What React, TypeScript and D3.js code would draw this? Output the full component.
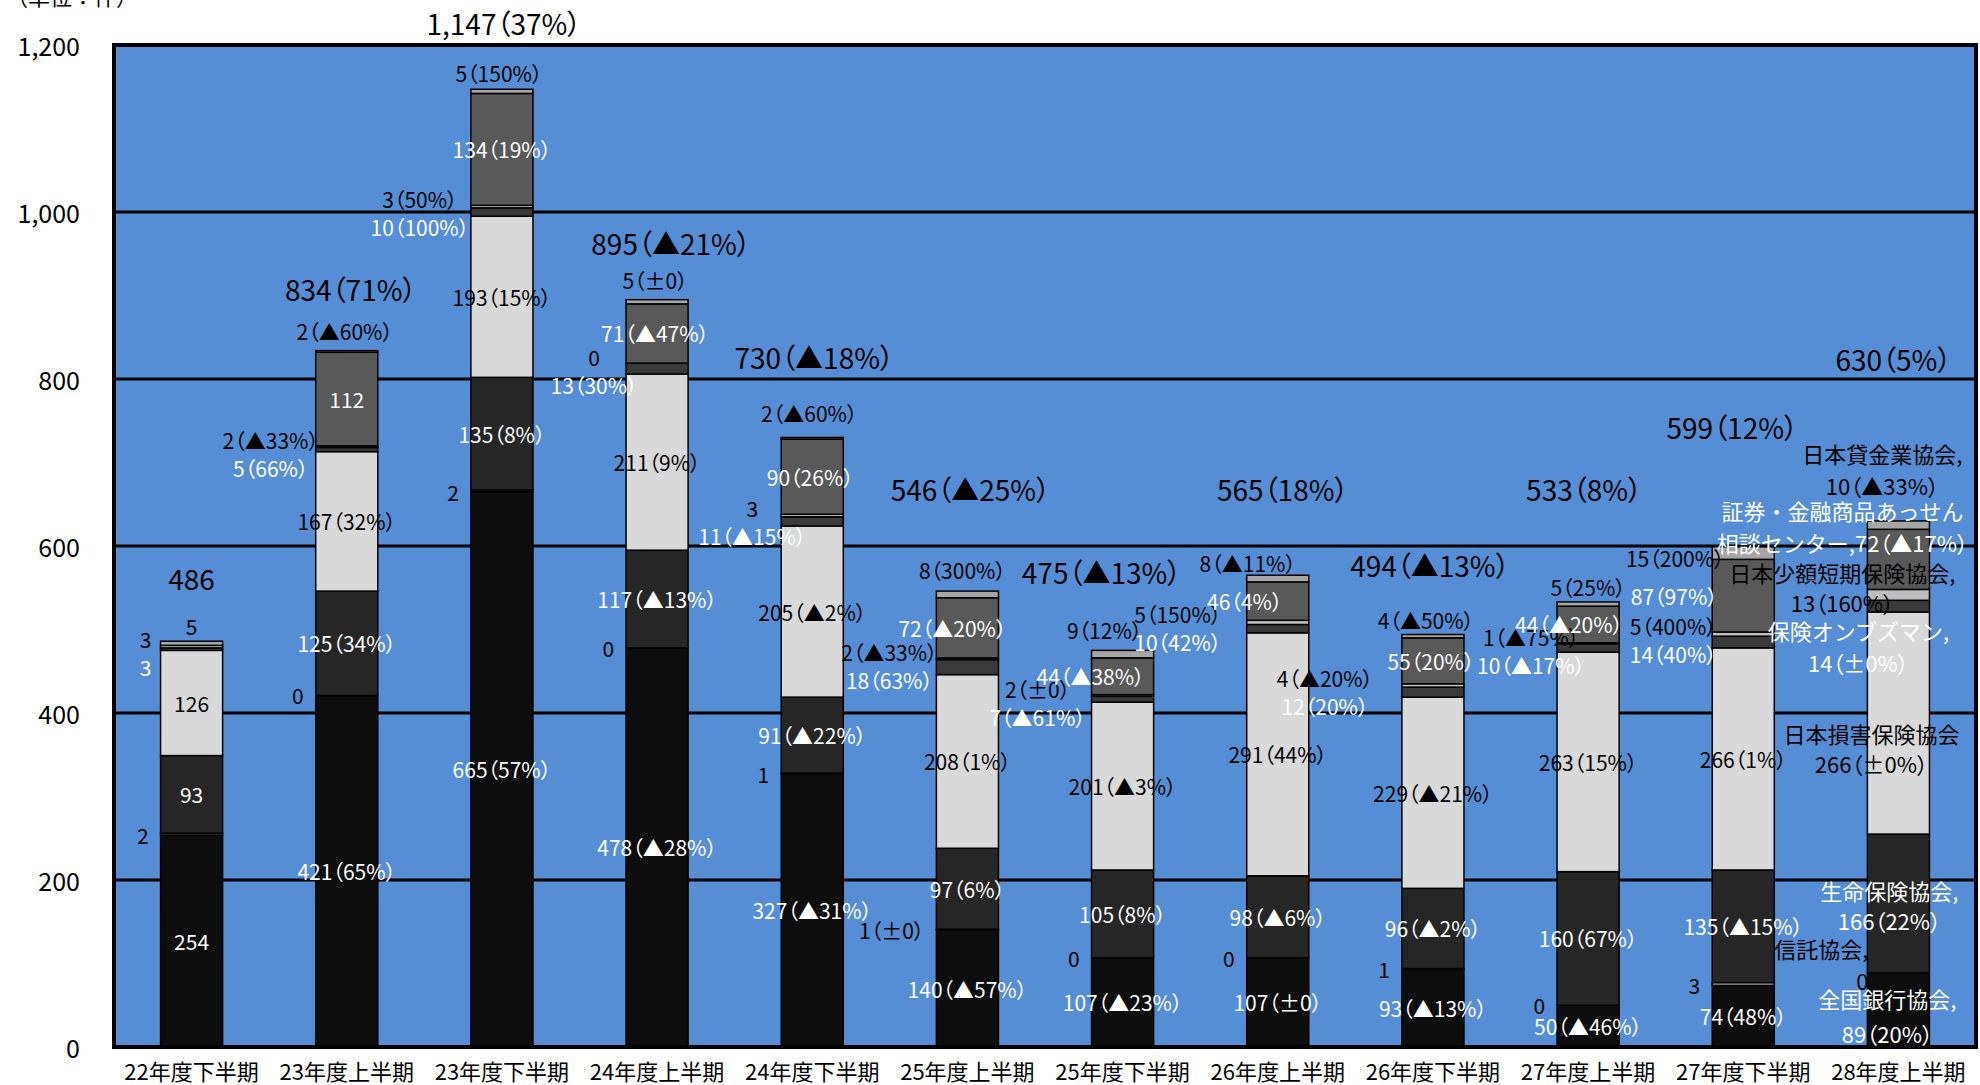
import React from "react";
import * as d3 from "d3";

const periods = [
  "22年度下半期", "23年度上半期", "23年度下半期", "24年度上半期",
  "24年度下半期", "25年度上半期", "25年度下半期", "26年度上半期",
  "26年度下半期", "27年度上半期", "27年度下半期", "28年度上半期",
];

// 件数（下から積み上げ順）
const zengin = [254, 421, 665, 478, 327, 140, 107, 107, 93, 50, 74, 89];
const shintaku = [2, 0, 2, 0, 1, 1, 0, 0, 1, 0, 3, 0];
const seiho = [93, 125, 135, 117, 91, 97, 105, 98, 96, 160, 135, 166];
const sonpo = [126, 167, 193, 211, 205, 208, 201, 291, 229, 263, 266, 266];
const ombuds = [3, 5, 10, 13, 11, 18, 7, 10, 12, 10, 14, 14];
const shogaku = [3, 2, 3, 0, 3, 2, 2, 5, 4, 1, 5, 13];
const shoken = [null, 112, 134, 71, 90, 72, 44, 46, 55, 44, 87, 72];
const kashikin = [5, 2, 5, 5, 2, 8, 9, 8, 4, 5, 15, 10];

// 前期比
const zenginChg = ["", "65%", "57%", "▲28%", "▲31%", "▲57%", "▲23%", "±0", "▲13%", "▲46%", "48%", "20%"];
const shintakuChg = ["", "", "", "", "", "±0", "", "", "", "", "", ""];
const seihoChg = ["", "34%", "8%", "▲13%", "▲22%", "6%", "8%", "▲6%", "▲2%", "67%", "▲15%", "22%"];
const sonpoChg = ["", "32%", "15%", "9%", "▲2%", "1%", "▲3%", "44%", "▲21%", "15%", "1%", "±0%"];
const ombudsChg = ["", "66%", "100%", "30%", "▲15%", "63%", "▲61%", "42%", "20%", "▲17%", "40%", "±0%"];
const shogakuChg = ["", "▲33%", "50%", "", "", "▲33%", "±0", "150%", "▲20%", "▲75%", "400%", "160%"];
const shokenChg = ["", "", "19%", "▲47%", "26%", "▲20%", "▲38%", "4%", "20%", "▲20%", "97%", "▲17%"];
const kashikinChg = ["", "▲60%", "150%", "±0", "▲60%", "300%", "12%", "▲11%", "▲50%", "25%", "200%", "▲33%"];
const totalChg = ["", "71%", "37%", "▲21%", "▲18%", "▲25%", "▲13%", "18%", "▲13%", "8%", "12%", "5%"];

const seriesNames = [
  ["全国銀行協会,"], ["信託協会,"], ["生命保険協会,"], ["日本損害保険協会"],
  ["保険オンブズマン,"], ["日本少額短期保険協会,"], ["証券・金融商品あっせん", "相談センター,"], ["日本貸金業協会,"],
];

const yTicks = [0, 200, 400, 600, 800, 1000, 1200];

const keys = ["zengin", "shintaku", "seiho", "sonpo", "ombuds", "shogaku", "shoken", "kashikin"];
const values = [zengin, shintaku, seiho, sonpo, ombuds, shogaku, shoken, kashikin];
const changes = [zenginChg, shintakuChg, seihoChg, sonpoChg, ombudsChg, shogakuChg, shokenChg, kashikinChg];
const fills = ["#0d0d0d", "#ffffff", "#262626", "#d9d9d9", "#3a3a3a", "#bfbfbf", "#595959", "#a6a6a6"];
const inks = ["#fff", "#000", "#fff", "#000", "#fff", "#000", "#fff", "#000"];

// ラベル位置の微調整 (px)
const totalDx = [0, 4, 2, 14, 2, 3, -21, 5, -3, -4, -11, -5];
const totalLift = [63, 62, 66, 57, 80, 102, 78, 86, 70, 113, 120, 162];
const sideDx = [-46, -76, -82, -63, -60, -78, -85, -100, -108, -57, -70, 0];
const shokenDx = [0, 0, 0, -2, -2, -15, -32, -33, -2, -19, -69, 0];
const kashiDx = [0, -2, -3, -2, -3, -5, -18, -30, -7, 0, -68, 0];
const kashiLift = [15, 20, 16, 20, 24, 21, 20, 12, 15, 15, -11, 0];
// 最終期（系列名つき）: [dx, dy1, dy2]
const lastPos = [
  [-11, -12, 23], [-30, -25, 7], [-9, -13, 17], [-27, 10, 40],
  [-40, 24, 56], [-56, -23, 7], [-56, -49, -17], [-16, -72, -40],
];

const FONT = "'Noto Sans CJK JP', 'Noto Sans', sans-serif";
const palt = { fontFeatureSettings: '"palt"' } as React.CSSProperties;

const fmt = (v: number, chg: string) => (chg ? `${v}（${chg}）` : `${v}`);

export default function App() {
  const W = 1980;
  const H = 1085;
  const m = { left: 114, right: 1976, top: 45, bottom: 1047 };

  const x = d3.scaleBand<string>().domain(periods).range([m.left, m.right]).paddingInner(0.6).paddingOuter(0.3);
  const y = d3.scaleLinear().domain([0, 1200]).range([m.bottom, m.top]);

  const rows = periods.map((p, i) => {
    const r: any = { period: p };
    keys.forEach((k, j) => (r[k] = values[j][i] ?? 0));
    return r;
  });
  const layers = d3.stack<any>().keys(keys)(rows);
  const totals = rows.map((r) => d3.sum(keys, (k) => r[k]));

  const bw = x.bandwidth();
  const labels: React.ReactNode[] = [];

  periods.forEach((p, i) => {
    const cx = x(p)! + bw / 2;
    const left = x(p)!;
    const last = i === periods.length - 1;
    layers.forEach((layer, k) => {
      const v = values[k][i];
      if (v == null) return;
      const [y0, y1] = layer[i];
      const mid = (y(y0) + y(y1)) / 2;
      const txt = fmt(v, changes[k][i]);
      const key = `${i}-${k}`;
      if (last) {
        const [dx, d1, d2] = lastPos[k];
        const names = seriesNames[k];
        const anchor = k === 1 ? "end" : "middle";
        const tx = k === 1 ? left + 1 : cx + dx;
        const line2Name = names.length > 1 ? names[1] : "";
        labels.push(
          <g key={key} fill={inks[k]} fontSize={22} textAnchor={anchor}>
            <text x={tx} y={mid + d1} dominantBaseline="central">{names[0]}</text>
            <text x={tx} y={mid + d2} dominantBaseline="central">
              {line2Name && <tspan>{line2Name}</tspan>}
              <tspan style={palt}>{txt}</tspan>
            </text>
          </g>
        );
        return;
      }
      let tx = cx;
      let ty = mid;
      let anchor = "middle";
      if (k === 1) {
        tx = left - 12;
        ty = y(y0);
        anchor = "end";
      } else if (k === 5) {
        tx = cx + sideDx[i];
        ty = y(y1) - 6;
      } else if (k === 4) {
        tx = cx + sideDx[i];
        ty = y(layers[5][i][1]) - 6 + 28;
      } else if (k === 6) {
        tx = cx + shokenDx[i];
      } else if (k === 7) {
        tx = cx + kashiDx[i];
        ty = y(totals[i]) - kashiLift[i];
      }
      labels.push(
        <text key={key} x={tx} y={ty} fill={inks[k]} fontSize={21} textAnchor={anchor}
          dominantBaseline="central" style={palt}>
          {txt}
        </text>
      );
    });
    const tt = d3.format(",")(totals[i]) + (totalChg[i] ? `（${totalChg[i]}）` : "");
    labels.push(
      <text key={`t${i}`} x={cx + totalDx[i]} y={y(totals[i]) - totalLift[i]} fontSize={28}
        textAnchor="middle" dominantBaseline="central" fill="#000" style={palt}>
        {tt}
      </text>
    );
  });

  return (
    <svg width={W} height={H} style={{ position: "absolute", left: 0, top: 0, background: "#fff" }} fontFamily={FONT}>
      <rect x={m.left} y={m.top} width={m.right - m.left} height={m.bottom - m.top} fill="#558ed5" />
      {yTicks.slice(1, -1).map((t) => (
        <line key={t} x1={m.left} x2={m.right} y1={y(t)} y2={y(t)} stroke="#000" strokeWidth={3} />
      ))}
      {layers.map((layer, k) =>
        layer.map((d, i) => {
          const h = y(d[0]) - y(d[1]);
          if (h <= 0) return null;
          return (
            <rect key={`${k}-${i}`} x={x(periods[i])} y={y(d[1])} width={bw} height={h}
              fill={fills[k]} stroke="#000" strokeWidth={1.5} />
          );
        })
      )}
      <rect x={m.left} y={m.top} width={m.right - m.left} height={m.bottom - m.top} fill="none"
        stroke="#000" strokeWidth={4} />
      {yTicks.map((t) => (
        <text key={t} x={80} y={y(t)} fontSize={25} textAnchor="end" dominantBaseline="central">
          {d3.format(",")(t)}
        </text>
      ))}
      {periods.map((p) => (
        <text key={p} x={x(p)! + bw / 2} y={1070} fontSize={22} textAnchor="middle" dominantBaseline="central">
          {p}
        </text>
      ))}
      <text x={6} y={5} fontSize={22}>（単位：件）</text>
      {labels}
    </svg>
  );
}
